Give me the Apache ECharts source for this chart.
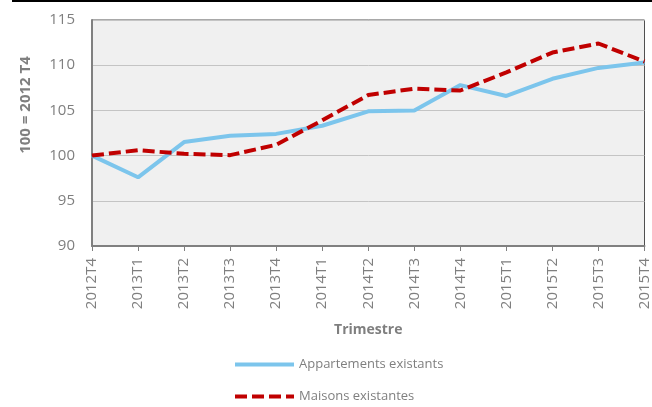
<!DOCTYPE html>
<html><head><meta charset="utf-8">
<script src="https://cdn.jsdelivr.net/npm/echarts@6/dist/echarts.min.js"></script>
<style>html,body{margin:0;padding:0;background:#fff}#c{width:652px;height:407px}</style>
</head><body><div id="c"></div>
<script>
const categories = ['2012T4','2013T1','2013T2','2013T3','2013T4','2014T1','2014T2','2014T3','2014T4','2015T1','2015T2','2015T3','2015T4'];
const appartements = [100, 97.6, 101.5, 102.2, 102.4, 103.3, 104.9, 105.0, 107.8, 106.6, 108.5, 109.7, 110.3];
const maisons = [100, 100.6, 100.2, 100.05, 101.2, 103.9, 106.7, 107.4, 107.2, 109.2, 111.4, 112.4, 110.4];
const seriesNames = ['Appartements existants', 'Maisons existantes'];
const yTitle = '100 = 2012 T4';
const xTitle = 'Trimestre';

const FONT = 'Open Sans';
const GREY = '#7f7f7f';
const chart = echarts.init(document.getElementById('c'));
chart.setOption({
  animation: false,
  textStyle: { fontFamily: FONT },
  grid: { left: 92, right: 5, top: 20, bottom: 161, show: true, backgroundColor: '#f0f0f0', borderColor: '#505050', borderWidth: 1 },
  graphic: [
    { type: 'rect', shape: { x: 12, y: 0, width: 640, height: 2 }, style: { fill: '#000' } },
    { type: 'text', x: 26, y: 105, rotation: Math.PI / 2,
      style: { text: yTitle, fill: GREY, font: 'bold 15px "' + FONT + '"', align: 'center', verticalAlign: 'middle' } }
  ],
  xAxis: {
    type: 'category', data: categories, boundaryGap: false,
    name: xTitle, nameLocation: 'middle', nameGap: 77,
    nameTextStyle: { color: GREY, fontWeight: 'bold', fontSize: 14, fontFamily: FONT },
    axisLine: { lineStyle: { color: '#808080', width: 2 } },
    axisTick: { show: true, length: 5, alignWithLabel: true, lineStyle: { color: '#808080', width: 1 } },
    axisLabel: { rotate: 90, color: GREY, fontSize: 15, margin: 12, fontFamily: FONT, interval: 0 },
    splitLine: { show: false }
  },
  yAxis: {
    type: 'value', min: 90, max: 115, interval: 5,
    axisLine: { show: true, lineStyle: { color: '#808080', width: 2 } },
    axisTick: { show: false },
    axisLabel: { color: GREY, fontSize: 15, margin: 17, fontFamily: FONT },
    splitLine: { lineStyle: { color: '#c4c4c4', width: 1 } }
  },
  legend: {
    orient: 'vertical', left: 233, top: 358, height: 80, padding: 0,
    itemWidth: 59, itemHeight: 14, itemGap: 19,
    itemStyle: { opacity: 0 },
    lineStyle: { width: 4 },
    textStyle: { color: GREY, fontSize: 13, fontFamily: FONT },
    data: seriesNames
  },
  series: [
    { name: seriesNames[0], type: 'line', data: appartements, symbol: 'none',
      lineStyle: { color: '#7cc5ec', width: 4 }, itemStyle: { color: '#7cc5ec' } },
    { name: seriesNames[1], type: 'line', data: maisons, symbol: 'none',
      lineStyle: { color: '#c00000', width: 4, type: [12, 5] }, itemStyle: { color: '#c00000' } }
  ]
});
</script></body></html>
